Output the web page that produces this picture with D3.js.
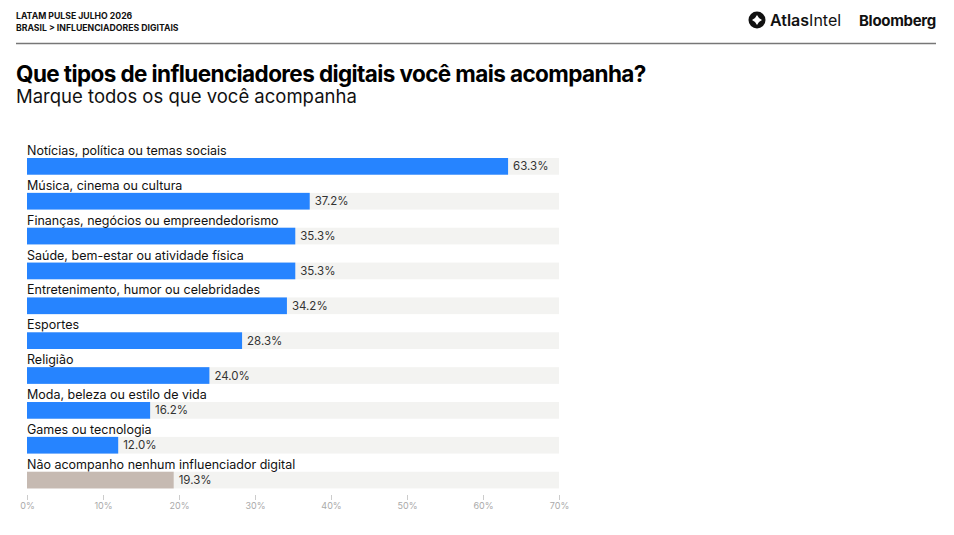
<!DOCTYPE html>
<html>
<head>
<meta charset="utf-8">
<script src="https://cdn.jsdelivr.net/npm/d3@7"></script>
<style>
  html, body { margin: 0; padding: 0; background: #fff; }
  svg { display: block; font-family: "Inter", "Noto Sans", sans-serif; }
</style>
</head>
<body>
<svg id="chart"></svg>
<script>
// Data
const categories = [
    "Notícias, política ou temas sociais",
    "Música, cinema ou cultura",
    "Finanças, negócios ou empreendedorismo",
    "Saúde, bem-estar ou atividade física",
    "Entretenimento, humor ou celebridades",
    "Esportes",
    "Religião",
    "Moda, beleza ou estilo de vida",
    "Games ou tecnologia",
    "Não acompanho nenhum influenciador digital"
];
const values = [63.3, 37.2, 35.3, 35.3, 34.2, 28.3, 24.0, 16.2, 12.0, 19.3];
const tickValues = [0, 10, 20, 30, 40, 50, 60, 70];

const width = 954, height = 535;
const svg = d3.select("#chart").attr("width", width).attr("height", height);

// Header
svg.append("text")
    .attr("x", 16).attr("y", 18.5)
    .attr("font-size", 8.7).attr("font-weight", 700)
    .attr("fill", "#111")
    .text("LATAM PULSE JULHO 2026");
svg.append("text")
    .attr("x", 16).attr("y", 30.5)
    .attr("font-size", 8.7).attr("font-weight", 700)
    .attr("fill", "#111")
    .text("BRASIL > INFLUENCIADORES DIGITAIS");

svg.append("line")
    .attr("x1", 16).attr("x2", 936)
    .attr("y1", 43.5).attr("y2", 43.5)
    .attr("stroke", "#777").attr("stroke-width", 1.5);

// AtlasIntel logo
const logo = svg.append("g").attr("transform", "translate(757, 20)");
logo.append("circle").attr("r", 8.5).attr("fill", "#111");
logo.append("path")
    .attr("d", "M0,-5 Q1.5,-1.5 5,0 Q1.5,1.5 0,5 Q-1.5,1.5 -5,0 Q-1.5,-1.5 0,-5 Z")
    .attr("fill", "#fff");
const atlas = svg.append("text")
    .attr("x", 770).attr("y", 26)
    .attr("font-size", 16).attr("fill", "#111");
atlas.append("tspan").attr("font-weight", 600).text("Atlas");
atlas.append("tspan").attr("font-weight", 400).text("Intel");

svg.append("text")
    .attr("x", 936).attr("y", 26)
    .attr("text-anchor", "end")
    .attr("font-size", 15).attr("font-weight", 700)
    .attr("letter-spacing", -0.3)
    .attr("fill", "#111")
    .text("Bloomberg");

// Title
svg.append("text")
    .attr("x", 16).attr("y", 82)
    .attr("font-size", 22.5).attr("font-weight", 700)
    .attr("letter-spacing", -0.6)
    .attr("fill", "#000")
    .text("Que tipos de influenciadores digitais você mais acompanha?");
svg.append("text")
    .attr("x", 16).attr("y", 103)
    .attr("font-size", 18.5).attr("font-weight", 400)
    .attr("fill", "#111")
    .text("Marque todos os que você acompanha");

// Scales
const x = d3.scaleLinear().domain([0, 70]).range([27, 559]);
const y = d3.scaleBand().domain(categories).range([141, 489.6]);
const barOffset = 17, barH = 16.7;

const rows = svg.selectAll(".row")
    .data(categories)
    .enter()
    .append("g")
    .attr("class", "row")
    .attr("transform", d => `translate(0, ${y(d)})`);

// background track
rows.append("rect")
    .attr("x", x(0))
    .attr("y", barOffset)
    .attr("width", x(70) - x(0))
    .attr("height", barH)
    .attr("fill", "#f3f3f1");

rows.append("rect")
    .attr("x", x(0))
    .attr("y", barOffset)
    .attr("width", (d, i) => x(values[i]) - x(0))
    .attr("height", barH)
    .attr("fill", (d, i) => i === categories.length - 1 ? "#c6bab2" : "#2684ff");

rows.append("text")
    .attr("x", x(0))
    .attr("y", 14)
    .attr("font-size", 12.5)
    .attr("fill", "#111")
    .text(d => d);

rows.append("text")
    .attr("x", (d, i) => x(values[i]) + 5)
    .attr("y", barOffset + barH / 2 + 4)
    .attr("font-size", 11.5)
    .attr("fill", "#333")
    .text((d, i) => values[i].toFixed(1) + "%");

// X axis
const xAxis = d3.axisBottom(x)
    .tickValues(tickValues)
    .tickSize(5)
    .tickPadding(3)
    .tickFormat(d => d + "%");

const gx = svg.append("g")
    .attr("transform", "translate(0, 495)")
    .call(xAxis);
gx.select(".domain").remove();
gx.selectAll(".tick line").attr("stroke", "#ccc");
gx.selectAll(".tick text")
    .attr("fill", "#aaa")
    .attr("font-size", 9)
    .attr("font-family", "Inter, sans-serif");
</script>
</body>
</html>
